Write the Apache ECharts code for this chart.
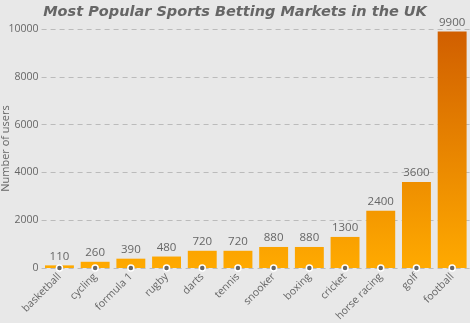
<!DOCTYPE html>
<html><head><meta charset="utf-8">
<script src="https://cdn.jsdelivr.net/npm/echarts@6/dist/echarts.min.js"></script>
<style>html,body{margin:0;padding:0;background:#e8e8e8;}#c{width:470px;height:323px;}</style>
</head><body><div id="c"></div>
<script>
const categories = ['basketball','cycling','formula 1','rugby','darts','tennis','snooker','boxing','cricket','horse racing','golf','football'];
const users = [110,260,390,480,720,720,880,880,1300,2400,3600,9900];
const yTicks = [0,2000,4000,6000,8000,10000];

const GRID_TOP = 29, GRID_BOTTOM = 55;
const chart = echarts.init(document.getElementById('c'));
chart.setOption({
  backgroundColor: '#e8e8e8',
  animation: false,
  textStyle: {fontFamily: 'Open Sans'},
  title: {
    text: 'Most Popular Sports Betting Markets in the UK',
    left: 'center', top: 0,
    textStyle: {fontFamily: 'DejaVu Sans', fontStyle: 'italic', fontWeight: 'bold', fontSize: 14.5, color: '#666'}
  },
  grid: {left: 41.6, right: 0, top: GRID_TOP, bottom: GRID_BOTTOM, containLabel: false, outerBoundsMode: 'none'},
  xAxis: {
    type: 'category', data: categories,
    axisLine: {show: false}, axisTick: {show: false},
    axisLabel: {rotate: 45, color: '#666', fontSize: 10.5, margin: 7, interval: 0, fontFamily: 'Open Sans'}
  },
  yAxis: {
    type: 'value', min: yTicks[0], max: yTicks[yTicks.length-1], interval: 2000,
    name: 'Number of users', nameLocation: 'middle', nameGap: 30, nameRotate: 90, nameMoveOverlap: false,
    nameTextStyle: {color: '#666', fontSize: 11, fontFamily: 'Open Sans'},
    axisLabel: {color: '#666', fontSize: 10.5, margin: 3, fontFamily: 'Open Sans', formatter: v => String(v)},
    splitLine: {lineStyle: {color: '#bbb', type: [5,4], width: 1}}
  },
  series: [{
    type: 'bar', data: users, barCategoryGap: '19%',
    itemStyle: {color: {type: 'linear', global: true, x: 0, y: 323 - GRID_BOTTOM, x2: 0, y2: GRID_TOP,
      colorStops: [{offset: 0, color: '#ffaa00'}, {offset: 1, color: '#d05e00'}]}},
    label: {show: true, position: 'top', color: '#666', fontSize: 11.5, distance: 3, fontFamily: 'Open Sans'}
  }, {
    type: 'scatter', data: users.map(() => 0), symbol: 'circle', symbolSize: 6,
    itemStyle: {color: '#666', borderColor: '#fff', borderWidth: 1.5, opacity: 1},
    silent: true, z: 5
  }]
});
</script></body></html>
